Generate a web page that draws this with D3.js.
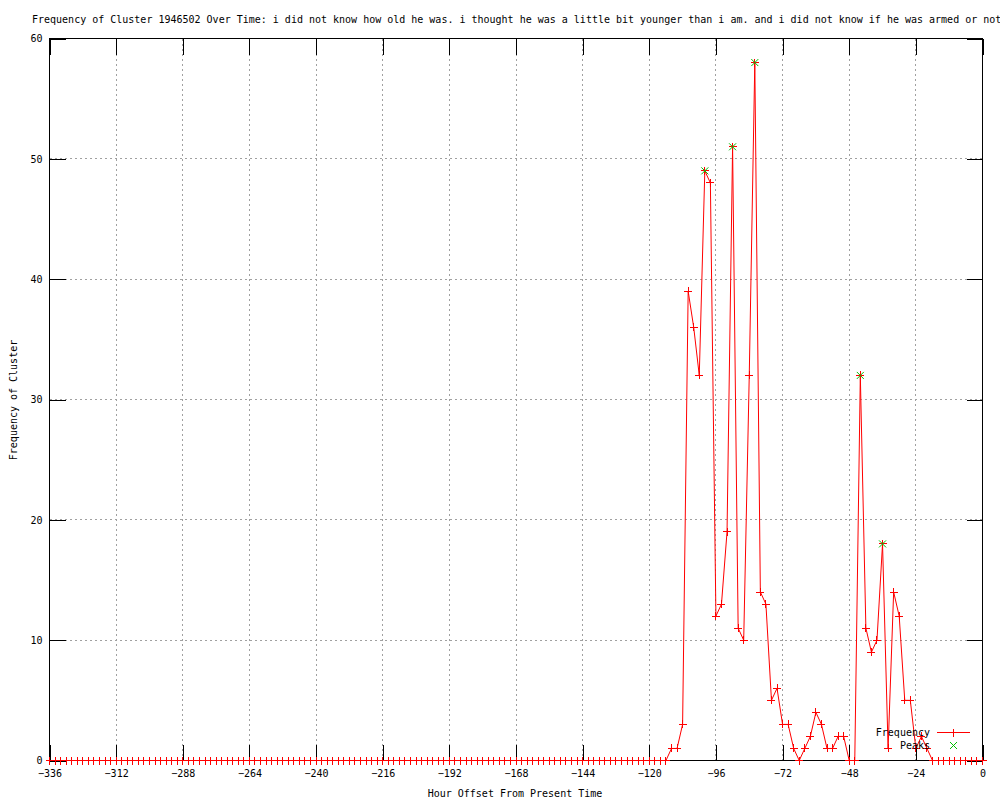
<!DOCTYPE html>
<html>
<head>
<meta charset="utf-8">
<script src="https://cdn.jsdelivr.net/npm/d3@7"></script>
<style>
  html, body { margin: 0; padding: 0; background: #fff; }
  svg { display: block; }
  text { font-family: "DejaVu Sans Mono", "Liberation Mono", monospace; font-size: 10px; fill: #000; }
</style>
</head>
<body>
<svg id="chart" width="1000" height="800"></svg>
<script>
// ---- data ----
const titleText = "Frequency of Cluster 1946502 Over Time: i did not know how old he was. i thought he was a little bit younger than i am. and i did not know if he was armed or not";
const xLabel = "Hour Offset From Present Time";
const yLabel = "Frequency of Cluster";

const hours = [
  -336,-334,-332,-330,-328,-326,-324,-322,-320,-318,-316,-314,-312,-310,-308,-306,-304,-302,-300,-298,
  -296,-294,-292,-290,-288,-286,-284,-282,-280,-278,-276,-274,-272,-270,-268,-266,-264,-262,-260,-258,
  -256,-254,-252,-250,-248,-246,-244,-242,-240,-238,-236,-234,-232,-230,-228,-226,-224,-222,-220,-218,
  -216,-214,-212,-210,-208,-206,-204,-202,-200,-198,-196,-194,-192,-190,-188,-186,-184,-182,-180,-178,
  -176,-174,-172,-170,-168,-166,-164,-162,-160,-158,-156,-154,-152,-150,-148,-146,-144,-142,-140,-138,
  -136,-134,-132,-130,-128,-126,-124,-122,-120,-118,-116,-114,-112,-110,-108,-106,-104,-102,-100,-98,
  -96,-94,-92,-90,-88,-86,-84,-82,-80,-78,-76,-74,-72,-70,-68,-66,-64,-62,-60,-58,
  -56,-54,-52,-50,-48,-46,-44,-42,-40,-38,-36,-34,-32,-30,-28,-26,-24,-22,-20,-18,
  -16,-14,-12,-10,-8,-6,-4,-2,0
];

const frequency = [
  0,0,0,0,0,0,0,0,0,0,0,0,0,0,0,0,0,0,0,0,
  0,0,0,0,0,0,0,0,0,0,0,0,0,0,0,0,0,0,0,0,
  0,0,0,0,0,0,0,0,0,0,0,0,0,0,0,0,0,0,0,0,
  0,0,0,0,0,0,0,0,0,0,0,0,0,0,0,0,0,0,0,0,
  0,0,0,0,0,0,0,0,0,0,0,0,0,0,0,0,0,0,0,0,
  0,0,0,0,0,0,0,0,0,0,0,0,1,1,3,39,36,32,49,48,
  12,13,19,51,11,10,32,58,14,13,5,6,3,3,1,0,1,2,4,3,
  1,1,2,2,0,0,32,11,9,10,18,1,14,12,5,5,1,2,1,0,
  0,0,0,0,0,0,0,0,0
];

const peakHours = [-100, -90, -82, -44, -36];
const peakValues = [49, 51, 58, 32, 18];

const xTicks = [-336,-312,-288,-264,-240,-216,-192,-168,-144,-120,-96,-72,-48,-24,0];
const yTicks = [0,10,20,30,40,50,60];

const legendLabels = ["Frequency", "Peaks"];

// ---- chart ----
const svg = d3.select("#chart");
const pLeft = 49.5, pRight = 982.5, pTop = 38.5, pBottom = 760.5;
const x = d3.scaleLinear().domain([-336, 0]).range([pLeft, pRight]);
const y = d3.scaleLinear().domain([0, 60]).range([pBottom, pTop]);
const tickLen = 16;

// grid
const grid = svg.append("g").attr("stroke", "#a0a0a0").attr("stroke-width", 1)
  .attr("stroke-dasharray", "2,3").attr("shape-rendering", "crispEdges");
xTicks.filter(t => t !== -336 && t !== 0).forEach(t => {
  grid.append("line").attr("x1", x(t)).attr("x2", x(t)).attr("y1", pTop).attr("y2", pBottom);
});
yTicks.filter(t => t !== 0 && t !== 60).forEach(t => {
  grid.append("line").attr("x1", pLeft).attr("x2", pRight).attr("y1", y(t)).attr("y2", y(t));
});

// axes with inward ticks (and mirrored)
const axB = d3.axisBottom(x).tickValues(xTicks).tickSizeInner(-tickLen).tickSizeOuter(0).tickPadding(10).tickFormat(d3.format("d"));
const axT = d3.axisTop(x).tickValues(xTicks).tickSizeInner(-tickLen).tickSizeOuter(0).tickFormat("");
const axL = d3.axisLeft(y).tickValues(yTicks).tickSizeInner(-tickLen).tickSizeOuter(0).tickPadding(8).tickFormat(d3.format("d"));
const axR = d3.axisRight(y).tickValues(yTicks).tickSizeInner(-tickLen).tickSizeOuter(0).tickFormat("");

function styleAxis(g) {
  g.attr("shape-rendering", "crispEdges");
  g.select(".domain").remove();
  g.selectAll("line").attr("stroke", "#000");
  g.selectAll("text").attr("font-family", "DejaVu Sans Mono, monospace").attr("font-size", 10).attr("fill", "#000");
}
const gB = svg.append("g").attr("transform", `translate(0,${pBottom})`).call(axB).call(styleAxis);
gB.selectAll("text").attr("y", 9).attr("dy", "0.71em");
svg.append("g").attr("transform", `translate(0,${pTop})`).call(axT).call(styleAxis);
const gL = svg.append("g").attr("transform", `translate(${pLeft},0)`).call(axL).call(styleAxis);
gL.selectAll("text").attr("x", -7);
svg.append("g").attr("transform", `translate(${pRight},0)`).call(axR).call(styleAxis);

// border
svg.append("rect").attr("x", pLeft).attr("y", pTop).attr("width", pRight - pLeft).attr("height", pBottom - pTop)
  .attr("fill", "none").attr("stroke", "#000").attr("shape-rendering", "crispEdges");

// data
const data = hours.map((h, i) => ({ h, v: frequency[i] }));
const line = d3.line().x(d => x(d.h)).y(d => y(d.v));
svg.append("path").datum(data).attr("d", line).attr("fill", "none").attr("stroke", "#ff0000").attr("stroke-width", 1);

const plusPath = "M-4,0H4M0,-4V4";
const crossPath = "M-3.5,-3.5L3.5,3.5M-3.5,3.5L3.5,-3.5";
svg.append("g").selectAll("path").data(data).join("path")
  .attr("transform", d => `translate(${x(d.h)},${y(d.v)})`)
  .attr("d", plusPath).attr("stroke", "#ff0000").attr("fill", "none").attr("shape-rendering", "crispEdges");

const peaks = peakHours.map((h, i) => ({ h, v: peakValues[i] }));
svg.append("g").selectAll("path").data(peaks).join("path")
  .attr("transform", d => `translate(${x(d.h)},${y(d.v)})`)
  .attr("d", crossPath).attr("stroke", "#00c000").attr("fill", "none");

// legend
const lg = svg.append("g");
lg.append("text").attr("x", 930).attr("y", 733).attr("text-anchor", "end").attr("dominant-baseline", "middle").text(legendLabels[0]);
lg.append("line").attr("x1", 937).attr("x2", 970).attr("y1", 732.5).attr("y2", 732.5).attr("stroke", "#ff0000").attr("shape-rendering", "crispEdges");
lg.append("path").attr("transform", "translate(953.5,732.5)").attr("d", plusPath).attr("stroke", "#ff0000").attr("shape-rendering", "crispEdges");
lg.append("text").attr("x", 930).attr("y", 746).attr("text-anchor", "end").attr("dominant-baseline", "middle").text(legendLabels[1]);
lg.append("path").attr("transform", "translate(953.5,745.5)").attr("d", crossPath).attr("stroke", "#00c000").attr("fill", "none");

// titles
svg.append("text").attr("x", 32).attr("y", 23).text(titleText);
svg.append("text").attr("x", 515).attr("y", 797).attr("text-anchor", "middle").text(xLabel);
svg.append("text").attr("transform", "translate(17,400) rotate(-90)").attr("text-anchor", "middle").text(yLabel);
</script>
</body>
</html>
